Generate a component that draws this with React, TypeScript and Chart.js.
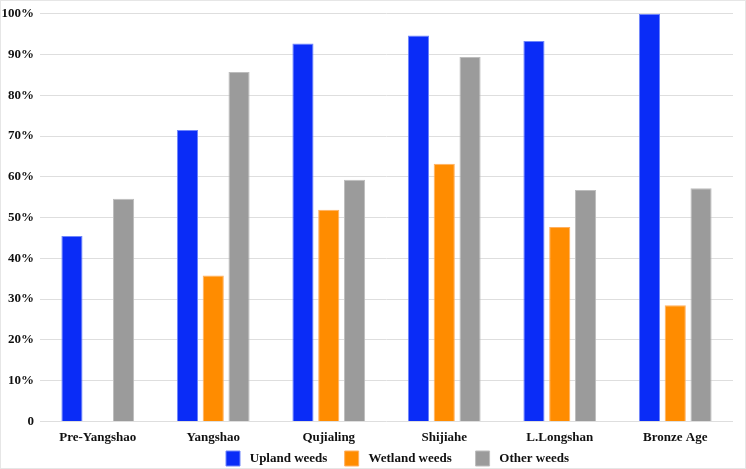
import React, { useEffect, useRef } from "react";
import { Chart, registerables } from "chart.js";

Chart.register(...registerables);

const categories = ["Pre-Yangshao", "Yangshao", "Qujialing", "Shijiahe", "L.Longshan", "Bronze Age"];
const uplandWeeds = [45.5, 71.5, 92.7, 94.7, 93.3, 100];
const wetlandWeeds = [null, 35.8, 51.9, 63.2, 47.7, 28.5];
const otherWeeds = [54.6, 85.7, 59.3, 89.4, 56.8, 57.2];
const seriesNames = ["Upland weeds", "Wetland weeds", "Other weeds"];
const yTicks = [0, 10, 20, 30, 40, 50, 60, 70, 80, 90, 100];

const FONT = "'Liberation Serif', 'Times New Roman', serif";

const legendPlacer = {
  id: "legendPlacer",
  afterLayout(chart: any) {
    const l = chart.legend;
    if (!l) return;
    const h = l.bottom - l.top;
    l.left = 212;
    l.right = 746;
    l.top = 437;
    l.bottom = 437 + h;
  },
};

const trailing = [" ", "   ", ""];

export default function App() {
  const ref = useRef<HTMLCanvasElement>(null);
  useEffect(() => {
    if (!ref.current) return;
    const chart = new Chart(ref.current, {
      type: "bar",
      data: {
        labels: categories,
        datasets: [
          { label: seriesNames[0], data: uplandWeeds, backgroundColor: "#0a2cf7", borderColor: "#6f86fb", borderWidth: 1 },
          { label: seriesNames[1], data: wetlandWeeds as any, backgroundColor: "#ff8c00", borderColor: "#ffb060", borderWidth: 1 },
          { label: seriesNames[2], data: otherWeeds, backgroundColor: "#9b9b9b", borderColor: "#bdbdbd", borderWidth: 1 },
        ],
      },
      plugins: [legendPlacer],
      options: {
        animation: false,
        responsive: false,
        maintainAspectRatio: false,
        layout: { padding: { left: 0, right: 13, top: 6, bottom: -23 } },
        datasets: { bar: { categoryPercentage: 0.67, barPercentage: 0.82 } },
        plugins: {
          legend: {
            position: "bottom",
            align: "start",
            labels: {
              font: { family: FONT, size: 13, weight: "bold" },
              color: "#111",
              boxWidth: 14,
              boxHeight: 15,
              padding: 14,
              generateLabels: (c: any) =>
                Chart.defaults.plugins.legend.labels.generateLabels(c).map((it: any, i: number) => ({
                  ...it,
                  text: " " + it.text + trailing[i],
                })),
            },
          },
          tooltip: { enabled: false },
        },
        scales: {
          x: {
            grid: { display: false, drawTicks: false },
            border: { display: false },
            ticks: { font: { family: FONT, size: 13, weight: "bold" }, color: "#111", padding: 8 },
          },
          y: {
            min: 0,
            max: 100,
            afterFit: (axis: any) => {
              axis.width = 40;
            },
            afterBuildTicks: (axis: any) => {
              axis.ticks = yTicks.map((v) => ({ value: v }));
            },
            grid: { color: "#dedede", lineWidth: 1, drawTicks: false },
            border: { display: false },
            ticks: {
              font: { family: FONT, size: 13, weight: "bold" },
              color: "#111",
              padding: 6,
              callback: (v: any) => (v === 0 ? "0" : v + "%"),
            },
          },
        },
      },
    });
    return () => chart.destroy();
  }, []);
  return (
    <div style={{ position: "absolute", left: 0, top: 0, width: 746, height: 469, background: "#fff" }}>
      <canvas ref={ref} width={746} height={469} style={{ position: "absolute", left: 0, top: 0 }} />
      <div style={{ position: "absolute", left: 0, top: 0, width: 744, height: 467, border: "1px solid #e6e6e6", pointerEvents: "none" }} />
    </div>
  );
}
